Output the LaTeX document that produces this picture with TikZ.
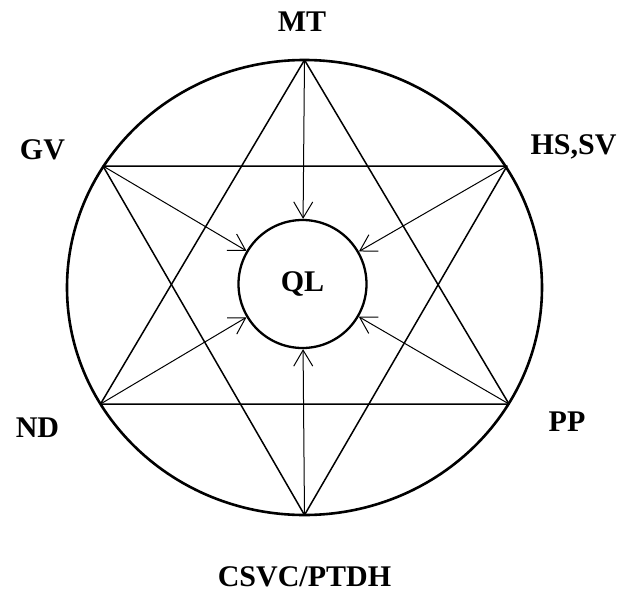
\documentclass[tikz,border=0pt]{standalone}
\usepackage{fontspec}
\setmainfont{Liberation Serif}
\usepackage{tikz}
\usetikzlibrary{arrows.meta,positioning,calc}

\begin{document}
\begin{tikzpicture}[x=1pt,y=1pt,lbl/.style={font=\fontsize{30}{36}\selectfont\bfseries,inner sep=0pt},star/.style={line width=1.5pt,line join=round},arr/.style={line width=1pt},hub/.style={draw,circle,line width=2.3pt,minimum size=128pt,inner sep=0pt,font=\fontsize{30}{36}\selectfont\bfseries},>={Straight Barb[length=16pt,width=19pt]}]
 \useasboundingbox (-304.5,-304.5) rectangle (315.5,287.5);
 % outer ring and its six points
 \draw[line width=2.6pt] (0,0) ellipse [x radius=237.5pt,y radius=227.5pt];
 \coordinate (mt) at (0,227.5); \coordinate (cs) at (0,-227.5);
 \coordinate (gv) at (-201.5,121.5); \coordinate (hs) at (202.5,121.5);
 \coordinate (nd) at (-204,-116.5); \coordinate (pp) at (204.5,-116.5);
 \node[lbl] (mtl) at (-2.5,265.5) {MT};
 \node[lbl] (gvl) at (-262,137.5) {GV};
 \node[lbl] (hsl) at (269,141) {HS,SV};
 \node[lbl] (ndl) at (-267,-140) {ND};
 \node[lbl] (ppl) at (262.5,-134.5) {PP};
 \node[lbl] (csl) at (0,-289.5) {CSVC/PTDH};
 % the two triangles
 \draw[star] (mt) -- (nd) -- (pp) -- cycle;
 \draw[star] (cs) -- (gv) -- (hs) -- cycle;
 \node[hub,fill=white] (ql) at (-2,3.5) {QL};
 \foreach \v in {mt,gv,hs,nd,pp,cs} \draw[arr,->] (\v) -- (ql);
\end{tikzpicture}
\end{document}
